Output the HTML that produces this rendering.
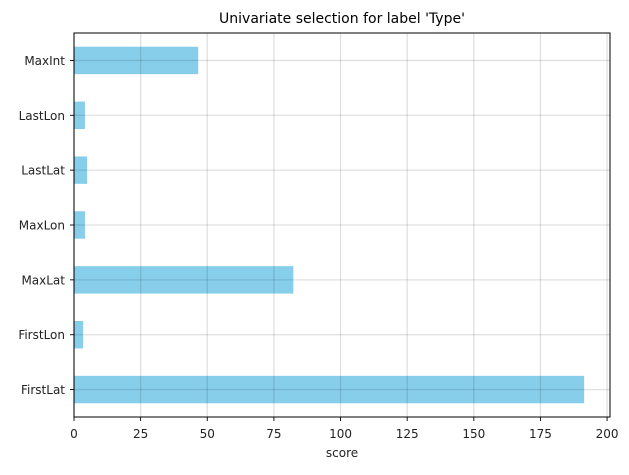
<!DOCTYPE html>
<html><head><meta charset="utf-8"><style>
body{margin:0;background:#fff;font-family:"Liberation Sans","DejaVu Sans",sans-serif;}
</style></head><body>
<svg id="chart" width="629" height="470" xmlns="http://www.w3.org/2000/svg" font-family="DejaVu Sans, Liberation Sans, sans-serif"></svg>
<script>
const categories = ["FirstLat","FirstLon","MaxLat","MaxLon","LastLat","LastLon","MaxInt"];
const scores = [191.4, 3.4, 82.3, 4.1, 4.9, 4.1, 46.6];
const xTicks = [0,25,50,75,100,125,150,175,200];
const L=74,R=610,T=33,B=417,XMAX=201.1;
const svg=document.getElementById('chart');
const NS="http://www.w3.org/2000/svg";
const x=v=>L+(v/XMAX)*(R-L);
const band=(B-T)/categories.length;
const y=i=>B-(i+0.5)*band;
function mk(tag,attrs,parent){const e=document.createElementNS(NS,tag);for(const k in attrs)e.setAttribute(k,attrs[k]);(parent||svg).appendChild(e);return e;}
categories.forEach((c,i)=>{
  const r=mk('rect',{x:L,y:y(i)-band*0.25,width:x(scores[i])-L,height:band*0.5,fill:'#87CEEB'});
  
  
});
xTicks.forEach(t=>{
  const g=mk('line',{x1:x(t),x2:x(t),y1:T,y2:B,stroke:'#000','stroke-opacity':0.12,'stroke-width':1.3});
  
  
  mk('line',{x1:x(t),x2:x(t),y1:B,y2:B+4,stroke:'#000','stroke-width':0.9});
  const tx=mk('text',{x:x(t),y:B+21,'text-anchor':'middle','font-size':12,fill:'#222'});
  tx.textContent=t;
  
  
});
categories.forEach((c,i)=>{
  const g=mk('line',{x1:L,x2:R,y1:y(i),y2:y(i),stroke:'#000','stroke-opacity':0.12,'stroke-width':1.3});
  
  
  mk('line',{x1:L-4,x2:L,y1:y(i),y2:y(i),stroke:'#000','stroke-width':0.9});
  const tx=mk('text',{x:L-9,y:y(i)+4.5,'text-anchor':'end','font-size':12,fill:'#222'});
  tx.textContent=c;
  
  
});
const fr=mk('rect',{x:L,y:T,width:R-L,height:B-T,fill:'none',stroke:'#000','stroke-width':1});


const ttl=mk('text',{x:(L+R)/2,y:T-10,'text-anchor':'middle','font-size':14,fill:'#000'});
ttl.textContent="Univariate selection for label 'Type'";


const xl=mk('text',{x:(L+R)/2,y:B+40,'text-anchor':'middle','font-size':12,fill:'#222'});
xl.textContent="score";


</script>
</body></html>
